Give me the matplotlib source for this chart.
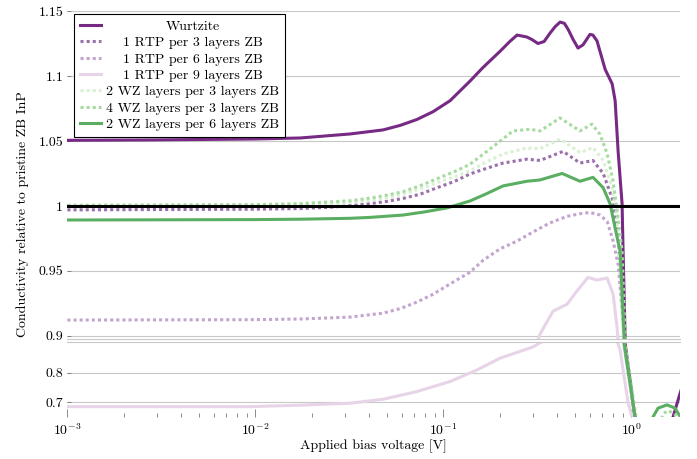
import numpy as np
import matplotlib
matplotlib.use('Agg')
import matplotlib.pyplot as plt
from matplotlib.ticker import LogLocator, NullFormatter

plt.rcParams['font.family'] = 'serif'
plt.rcParams['font.serif'] = ['cmr10', 'DejaVu Serif']
plt.rcParams['mathtext.fontset'] = 'cm'
plt.rcParams['axes.unicode_minus'] = False
plt.rcParams['font.size'] = 10

# bias voltage [V] and conductivity relative to pristine ZB InP
wz_v = [0.001, 0.00275, 0.0097, 0.0173, 0.0319, 0.0477, 0.0589, 0.0722, 0.088, 0.1085,
        0.1383, 0.162, 0.2, 0.2253, 0.2464, 0.2778, 0.296, 0.3183, 0.343, 0.3691, 0.393,
        0.4174, 0.44, 0.4601, 0.49, 0.5198, 0.553, 0.6016, 0.624, 0.6559, 0.7252, 0.7896,
        0.819, 0.8495, 0.8918, 0.9028, 0.925, 1.044, 1.3, 1.6, 1.665, 1.814, 1.9]
wz_g = [1.0505, 1.0508, 1.0515, 1.0523, 1.0554, 1.0585, 1.062, 1.0665, 1.0725, 1.081,
        1.096, 1.1064, 1.119, 1.1265, 1.1315, 1.130, 1.128, 1.125, 1.1265, 1.133, 1.138,
        1.1415, 1.1405, 1.136, 1.128, 1.1215, 1.124, 1.132, 1.1315, 1.127, 1.105, 1.094,
        1.081, 1.042, 1.0016, 0.965, 0.9, 0.65, 0.5, 0.55, 0.65, 0.73, 0.77]

rtp3_v = [0.001, 0.0097, 0.0173, 0.025, 0.0319, 0.0407, 0.05, 0.061, 0.075, 0.0925, 0.115,
          0.1383, 0.17, 0.2075, 0.2778, 0.3262, 0.433, 0.5327, 0.6244, 0.7076, 0.7896,
          0.8495, 0.914, 1.044, 1.2]
rtp3_g = [0.997, 0.9975, 0.998, 0.999, 1.0003, 1.0018, 1.0035, 1.0058, 1.009, 1.014, 1.019,
          1.0246, 1.029, 1.033, 1.036, 1.035, 1.042, 1.033, 1.035, 1.025, 1.006,
          0.978, 0.9, 0.65, 0.5]

rtp6_v = [0.001, 0.0097, 0.0173, 0.0319, 0.0477, 0.0589, 0.0722, 0.088, 0.1085, 0.1383,
          0.162, 0.2, 0.2464, 0.2996, 0.3691, 0.4545, 0.5327, 0.6016, 0.6813, 0.7431,
          0.7993, 0.8495, 0.8918, 0.914, 1.044, 1.2]
rtp6_g = [0.9122, 0.9125, 0.913, 0.9145, 0.9175, 0.921, 0.926, 0.932, 0.94, 0.949,
          0.958, 0.967, 0.973, 0.980, 0.987, 0.992, 0.994, 0.995, 0.993, 0.988,
          0.973, 0.955, 0.92, 0.9, 0.65, 0.5]

rtp9_v = [0.001, 0.00935, 0.0173, 0.0319, 0.0477, 0.0722, 0.1085, 0.1506, 0.2, 0.2996,
          0.3262, 0.3826, 0.4545, 0.5135, 0.5869, 0.6559, 0.7431, 0.7993, 0.8392, 0.8704,
          0.925, 0.9595, 1.007, 1.111]
rtp9_g = [0.685, 0.685, 0.69, 0.6966, 0.710, 0.736, 0.770, 0.809, 0.849, 0.887,
          0.9013, 0.919, 0.9244, 0.9346, 0.945, 0.943, 0.9446, 0.932, 0.906, 0.877,
          0.765, 0.698, 0.65, 0.6]

wz2_v = [0.001, 0.0097, 0.0173, 0.0319, 0.0407, 0.05, 0.061, 0.075, 0.0925, 0.115, 0.1383,
         0.17, 0.2075, 0.2778, 0.3262, 0.4174, 0.5327, 0.6244, 0.7076, 0.7896, 0.8392,
         0.9028, 1.044, 1.2]
wz2_g = [1.0003, 1.0005, 1.001, 1.0025, 1.004, 1.0062, 1.009, 1.013, 1.018, 1.0225, 1.027,
         1.034, 1.04, 1.0446, 1.044, 1.0515, 1.041, 1.045, 1.035, 1.014, 0.991,
         0.9, 0.65, 0.5]

wz4_v = [0.001, 0.0097, 0.0173, 0.0319, 0.0407, 0.05, 0.061, 0.075, 0.0925, 0.115, 0.1383,
         0.1928, 0.2344, 0.2884, 0.3262, 0.4174, 0.5327, 0.6167, 0.6813, 0.7431, 0.7993,
         0.8495, 0.8918, 0.925, 1.058, 1.3, 1.473, 1.56, 1.706, 1.8]
wz4_g = [1.0005, 1.001, 1.0018, 1.004, 1.006, 1.0083, 1.011, 1.0155, 1.021, 1.0265, 1.032,
         1.048, 1.0577, 1.059, 1.0577, 1.0677, 1.0577, 1.063, 1.055, 1.04, 1.019,
         0.991, 0.965, 0.9, 0.65, 0.55, 0.66, 0.672, 0.66, 0.6]

wz6_v = [0.001, 0.0097, 0.0173, 0.0319, 0.0407, 0.061, 0.08, 0.1045, 0.1383, 0.17, 0.2075,
         0.2778, 0.3262, 0.4277, 0.5327, 0.6244, 0.7076, 0.7707, 0.819, 0.8704, 0.914, 1.044,
         1.2, 1.302, 1.385, 1.546, 1.706, 1.814, 1.9]
wz6_g = [0.9892, 0.9895, 0.9898, 0.9905, 0.9912, 0.993, 0.9955, 0.9985, 1.0038, 1.0095,
         1.0154, 1.019, 1.02, 1.025, 1.019, 1.022, 1.014, 1.0015, 0.983, 0.965, 0.9, 0.65,
         0.5, 0.65, 0.68, 0.691, 0.68, 0.652, 0.6]

ref_level = 1.0

labels = ['Wurtzite', '1 RTP per 3 layers ZB', '1 RTP per 6 layers ZB',
          '1 RTP per 9 layers ZB', '2 WZ layers per 3 layers ZB',
          '4 WZ layers per 3 layers ZB', '2 WZ layers per 6 layers ZB']
colors = ['#762a83', '#9970ab', '#c2a5cf', '#e7d4e8', '#d9f0d3', '#a6dba0', '#5aae61']
dot = (0, (1, 1))
styles = ['-', dot, dot, '-', dot, dot, '-']
series = [(wz_v, wz_g), (rtp3_v, rtp3_g), (rtp6_v, rtp6_g), (rtp9_v, rtp9_g),
          (wz2_v, wz2_g), (wz4_v, wz4_g), (wz6_v, wz6_g)]

top_ticks = [0.9, 0.95, 1.0, 1.05, 1.1, 1.15]
top_labels = ['0.9', '0.95', '1', '1.05', '1.1', '1.15']
bot_ticks = [0.7, 0.8]
bot_labels = ['0.7', '0.8']
x_ticks = [1e-3, 1e-2, 1e-1, 1e0]
x_labels = [r'$10^{-3}$', r'$10^{-2}$', r'$10^{-1}$', r'$10^{0}$']

fig = plt.figure(figsize=(6.97, 4.59), dpi=100)
ax_top = fig.add_axes([0.0967, 0.2625, 0.879, 0.7135])
ax_bot = fig.add_axes([0.0967, 0.0915, 0.879, 0.1634])

grid_c = '#c8c8c8'
for ax in (ax_top, ax_bot):
    for (v, g), c, ls, lab in zip(series, colors, styles, labels):
        ax.plot(v, g, color=c, lw=2.2, ls=ls, label=lab)
    ax.axhline(ref_level, color='black', lw=2.2, zorder=5)
    ax.set_xscale('log')
    ax.set_xlim(1e-3, 1.814)
    ax.grid(axis='y', color=grid_c, lw=0.8)
    ax.set_axisbelow(True)
    for s in ax.spines.values():
        s.set_visible(False)
    ax.tick_params(axis='y', direction='in', length=3, width=0.6, color='#777777', pad=3)

ax_top.set_ylim(0.898, 1.15)
ax_top.set_yticks(top_ticks, top_labels)
ax_top.tick_params(axis='x', which='both', bottom=False, labelbottom=False)
ax_top.spines['bottom'].set_visible(True)
ax_top.spines['bottom'].set_color(grid_c)
ax_top.spines['bottom'].set_linewidth(0.8)

ax_bot.set_ylim(0.65, 0.9037)
ax_bot.set_yticks(bot_ticks, bot_labels)
ax_bot.spines['top'].set_visible(True)
ax_bot.spines['top'].set_color(grid_c)
ax_bot.spines['top'].set_linewidth(0.8)
ax_bot.set_xticks(x_ticks, x_labels)
ax_bot.xaxis.set_minor_locator(LogLocator(base=10, subs=np.arange(2, 10)))
ax_bot.xaxis.set_minor_formatter(NullFormatter())
ax_bot.tick_params(axis='x', which='major', direction='in', length=5.5, width=0.6,
                   color='#777777', pad=4)
ax_bot.tick_params(axis='x', which='minor', direction='in', length=3, width=0.6,
                   color='#777777')
ax_bot.set_xlabel('Applied bias voltage [V]', labelpad=1)

fig.text(0.032, 0.0915 + (0.9760 - 0.0915) / 2, 'Conductivity relative to pristine ZB InP',
         rotation=90, ha='center', va='center')

leg = ax_top.legend(loc='upper left', bbox_to_anchor=(0.01, 0.991), borderaxespad=0,
                    fontsize=10, fancybox=False, edgecolor='black', framealpha=1,
                    handlelength=1.56, handletextpad=0.32, labelspacing=0.26, borderpad=0.45)
leg.get_frame().set_linewidth(0.8)
leg.set_zorder(10)

# centre the legend labels in their column
fig.canvas.draw()
texts = leg.get_texts()
widths = [t.get_window_extent().width for t in texts]
wmax = max(widths)
for t, w in zip(texts, widths):
    t.set_x((wmax - w) / 2)

fig.savefig('out.png', dpi=100)
